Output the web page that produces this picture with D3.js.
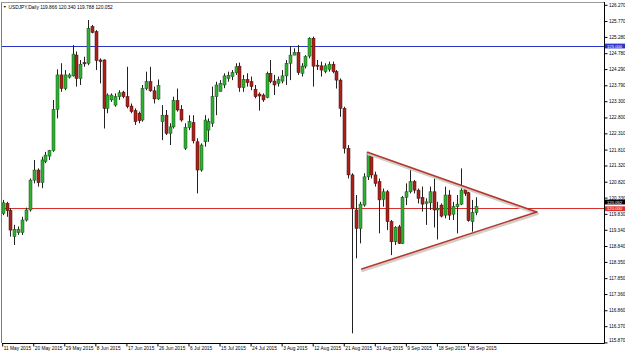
<!DOCTYPE html>
<html>
<head>
<meta charset="utf-8">
<script src="https://cdn.jsdelivr.net/npm/d3@7"></script>
<style>
  body { margin: 0; background: #fff; }
  svg { display: block; font-family: "Liberation Sans", Arial, sans-serif; }
</style>
</head>
<body>
<div id="chart"></div>
<script>
// USDJPY daily bars, 11 May 2015 .. 30 Sep 2015 (broker feed incl. short Sunday bars)
const symbol = "USDJPY,Daily";

const opens = [119.84,120.15,119.93,119.13,119.25,119.26,119.64,119.95,120.87,121.18,
  120.79,121.44,121.61,121.78,123.05,124.11,123.69,124.04,124.08,124.72,
  124.00,124.49,124.47,125.60,125.44,124.57,124.57,123.08,123.34,123.18,
  123.44,123.58,123.44,123.15,123.01,122.93,122.72,123.69,123.90,123.62,
  123.37,122.67,122.87,122.31,122.51,123.32,123.05,121.85,122.49,122.64,
  122.05,121.18,122.05,122.41,122.62,123.44,123.60,123.80,124.00,124.06,
  124.18,124.38,123.72,123.97,123.90,123.67,123.52,123.49,123.42,124.16,
  123.92,123.85,123.92,124.08,124.47,124.72,124.80,124.16,124.38,124.69,
  125.24,124.41,124.39,124.21,124.28,124.44,124.21,123.95,123.08,121.85,
  121.03,119.95,119.38,120.10,120.97,121.61,121.03,120.82,120.28,120.51,
  119.59,118.97,119.43,118.92,120.34,120.51,120.82,120.56,120.34,120.15,
  120.17,120.51,119.95,120.10,119.79,120.41,119.82,120.05,120.13,120.58,
  120.48,119.59,119.866];

const highs = [120.26,120.20,120.00,119.49,119.44,119.74,120.02,120.92,121.49,121.23,
  121.59,121.74,121.80,123.34,124.28,124.47,124.26,124.16,125.03,124.83,
  124.57,124.67,125.80,125.65,125.49,124.62,124.59,123.54,123.54,123.54,
  123.64,123.62,124.36,123.23,123.08,122.98,123.80,124.21,124.36,123.75,
  123.97,123.18,123.03,122.62,123.44,123.69,123.18,122.62,122.87,122.87,
  122.16,122.00,122.87,122.77,123.75,123.90,123.95,124.16,124.21,124.26,
  124.47,124.49,124.11,124.16,124.06,123.80,123.57,123.54,124.21,124.57,
  124.11,124.06,124.26,124.57,125.00,124.93,125.03,124.47,124.72,125.27,
  125.29,124.57,124.52,124.47,124.52,124.52,124.26,124.00,123.13,121.95,
  121.08,120.41,120.20,121.08,121.74,121.69,121.13,120.92,120.61,120.56,
  119.64,119.45,119.49,120.38,120.77,121.28,120.87,120.61,120.67,120.31,
  120.67,121.00,120.20,120.15,120.67,120.56,120.20,120.41,121.23,120.61,
  120.51,120.26,120.340];

const lows = [119.79,119.74,119.13,118.87,119.18,119.18,119.59,119.90,120.77,120.67,
  120.62,121.39,121.49,121.74,122.77,123.59,123.64,124.00,124.06,123.75,
  123.80,124.36,124.41,125.39,124.26,123.85,122.46,122.93,123.28,123.13,
  123.34,123.39,123.08,122.93,122.57,122.62,122.67,123.64,123.59,123.23,
  123.34,122.10,122.26,121.95,122.46,122.98,122.67,121.80,122.41,122.00,
  120.46,121.13,121.90,122.05,122.51,122.87,123.60,123.70,123.90,123.95,
  124.11,123.59,123.59,123.75,123.64,123.39,123.01,123.28,123.39,123.85,
  123.49,123.75,123.85,123.80,123.95,124.72,124.11,124.06,124.31,124.62,
  123.75,124.26,124.06,124.16,124.21,124.16,123.69,122.82,121.69,120.92,
  116.15,118.46,118.92,120.05,120.87,120.92,120.67,119.23,120.05,119.33,
  118.56,118.87,118.90,118.90,120.10,120.46,120.46,120.15,119.90,119.49,
  119.95,119.41,119.04,119.72,119.69,119.64,119.64,119.23,120.10,120.38,
  119.59,119.28,119.788];

const closes = [120.17,119.93,119.33,119.35,119.35,119.64,119.95,120.87,121.18,120.79,
  121.49,121.64,121.78,123.05,124.11,123.69,124.11,124.11,124.75,124.00,
  124.44,124.45,125.54,125.42,124.55,124.52,123.08,123.49,123.49,123.44,
  123.56,123.44,123.13,122.98,122.67,122.70,123.69,123.90,123.62,123.37,
  123.78,122.87,122.31,122.51,123.32,123.03,122.72,122.49,122.67,122.08,
  121.18,121.95,122.72,122.67,123.44,123.80,123.85,124.08,124.10,124.18,
  124.36,123.72,123.97,123.87,123.75,123.44,123.46,123.34,124.16,123.90,
  123.80,123.97,124.08,124.47,124.72,124.80,124.18,124.38,124.67,125.24,
  124.38,124.38,124.26,124.39,124.44,124.21,123.95,123.08,121.85,121.03,
  120.00,119.38,120.13,120.97,121.69,121.03,120.77,120.26,120.51,119.59,
  118.97,119.41,118.92,120.34,120.51,120.82,120.56,120.31,120.13,120.20,
  120.51,119.95,120.00,119.76,120.41,119.79,120.05,120.13,120.56,120.46,
  119.62,119.87,120.052];

// time axis: a label every 8 bars
const dateTicks = [0,8,16,24,32,40,48,56,64,72,80,88,96,104,112,120];
const dateLabels = ["11 May 2015","20 May 2015","29 May 2015","8 Jun 2015","17 Jun 2015",
  "26 Jun 2015","6 Jul 2015","15 Jul 2015","24 Jul 2015","3 Aug 2015","12 Aug 2015",
  "21 Aug 2015","31 Aug 2015","9 Sep 2015","18 Sep 2015","28 Sep 2015"];

const priceTicks = [126.270,125.770,125.280,124.780,124.290,123.790,123.300,122.800,
  122.310,121.810,121.320,120.820,120.330,119.830,119.340,118.840,118.350,117.850,
  117.360,116.860,116.370,115.870];

// horizontal levels drawn on the chart
const levelPrices = [125.000, 120.000];
const levelColors = ["#2a36c8", "#d8302c"];

// symmetrical triangle, endpoints as [bar index, price]
const triUpper = [[94, 121.725], [137.6, 119.886]];
const triLower = [[92.5, 118.13], [137.6, 119.886]];

const W = 625, H = 353;
const pLeft = 2, pRight = 604, pTop = 2, pBottom = 343;

const svg = d3.select("#chart").append("svg")
  .attr("width", W)
  .attr("height", H);

svg.append("rect").attr("width", W).attr("height", H).attr("fill", "#fff");

const x = d3.scaleLinear().domain([0, 122]).range([2.7, 476.2]);
const y = d3.scaleLinear().domain([115.87, 126.27]).range([342.4, 4.8]);

svg.append("clipPath").attr("id", "plot")
  .append("rect")
  .attr("x", pLeft).attr("y", pTop)
  .attr("width", pRight - pLeft).attr("height", pBottom - pTop);

const plot = svg.append("g").attr("clip-path", "url(#plot)");

// level lines
levelPrices.forEach((p, i) => {
  plot.append("line")
    .attr("x1", pLeft).attr("x2", pRight)
    .attr("y1", Math.round(y(p)) + 0.5).attr("y2", Math.round(y(p)) + 0.5)
    .attr("stroke", levelColors[i])
    .attr("stroke-width", 1);
});

const bars = d3.range(opens.length).map(i => ({
  i: i, o: opens[i], h: highs[i], l: lows[i], c: closes[i]
}));

// wicks
plot.selectAll(".wick")
  .data(bars)
  .enter()
  .append("line")
  .attr("class", "wick")
  .attr("x1", d => Math.round(x(d.i)) + 0.5)
  .attr("x2", d => Math.round(x(d.i)) + 0.5)
  .attr("y1", d => y(d.h))
  .attr("y2", d => y(d.l))
  .attr("stroke", "#222")
  .attr("stroke-width", 1);

// bodies
plot.selectAll(".body")
  .data(bars)
  .enter()
  .append("rect")
  .attr("class", "body")
  .attr("x", d => Math.round(x(d.i)) - 1)
  .attr("y", d => y(Math.max(d.o, d.c)))
  .attr("width", 3)
  .attr("height", d => Math.max(1, Math.abs(y(d.o) - y(d.c))))
  .attr("fill", d => d.c >= d.o ? "#30b030" : "#a8231e")
  .attr("stroke", d => d.c >= d.o ? "#14501a" : "#4a0b08")
  .attr("stroke-width", 0.5);

// triangle lines with their soft shadow
[triUpper, triLower].forEach(seg => {
  plot.append("line")
    .attr("x1", x(seg[0][0]) + 0.8).attr("y1", y(seg[0][1]) + 1.8)
    .attr("x2", x(seg[1][0]) + 0.8).attr("y2", y(seg[1][1]) + 1.8)
    .attr("stroke", "#d2cdc8")
    .attr("stroke-width", 2.4)
    .attr("stroke-linecap", "round");
  plot.append("line")
    .attr("x1", x(seg[0][0])).attr("y1", y(seg[0][1]))
    .attr("x2", x(seg[1][0])).attr("y2", y(seg[1][1]))
    .attr("stroke", "#b3372b")
    .attr("stroke-width", 1.6)
    .attr("stroke-linecap", "round");
});

// frame
svg.append("line").attr("x1", 1.5).attr("x2", 1.5).attr("y1", 2).attr("y2", pBottom)
  .attr("stroke", "#7a7a7a");
svg.append("line").attr("x1", 1.5).attr("x2", pRight).attr("y1", 2.5).attr("y2", 2.5)
  .attr("stroke", "#9a9a9a");

// price axis
const yAxis = svg.append("g")
  .attr("transform", `translate(${pRight + 0.5},0)`)
  .call(d3.axisRight(y).tickValues(priceTicks).tickSize(3).tickSizeOuter(0)
    .tickPadding(1.5).tickFormat(d3.format(".3f")));
yAxis.select(".domain").attr("d", `M0,${pTop}V${pBottom + 0.5}`).attr("stroke", "#000");
yAxis.selectAll("text").attr("font-size", 4.6).attr("fill", "#000")
  .attr("font-family", "Liberation Sans, Arial, sans-serif");
// lowest label sits just above the time axis, as the terminal draws it
yAxis.selectAll(".tick").filter(d => d === priceTicks[priceTicks.length - 1])
  .select("text").attr("dy", "-0.3em");

// time axis
const xAxis = svg.append("g")
  .attr("transform", `translate(0,${pBottom + 0.5})`)
  .call(d3.axisBottom(x).tickValues(dateTicks).tickSize(3).tickSizeOuter(0)
    .tickFormat((d, i) => dateLabels[i]));
xAxis.select(".domain").attr("d", `M${pLeft},0H${pRight + 0.5}`).attr("stroke", "#000");
xAxis.selectAll(".tick line").attr("transform", "translate(-0.5,0)");
xAxis.selectAll("text").attr("font-size", 4.8).attr("fill", "#000")
  .attr("text-anchor", "start").attr("dx", 0.5).attr("y", 3)
  .attr("font-family", "Liberation Sans, Arial, sans-serif");

// price tags on the axis
function tag(yc, label, bg) {
  const g = svg.append("g");
  g.append("rect").attr("x", pRight + 1).attr("y", yc - 2.4)
    .attr("width", W - pRight - 1).attr("height", 4.8).attr("fill", bg);
  g.append("text").attr("x", pRight + 3).attr("y", yc + 1.5)
    .attr("font-size", 4.2).attr("fill", "#fff").text(label);
}
tag(y(levelPrices[0]), d3.format(".3f")(levelPrices[0]), levelColors[0]);
// current price tag is pushed up off the red level tag
tag(y(closes[closes.length - 1]) - 4.6, d3.format(".3f")(closes[closes.length - 1]), "#000");
tag(y(levelPrices[1]) + 0.4, d3.format(".3f")(levelPrices[1]), "#e0302c");

// title
const last = opens.length - 1;
svg.append("text").attr("x", 3).attr("y", 8.3).attr("font-size", 3.6).text("\u25BC");
svg.append("text").attr("x", 8.5).attr("y", 8.5).attr("font-size", 4.8).attr("fill", "#000")
  .text(`${symbol}  ${opens[last].toFixed(3)} ${highs[last].toFixed(3)} ${lows[last].toFixed(3)} ${closes[last].toFixed(3)}`);
</script>
</body>
</html>
